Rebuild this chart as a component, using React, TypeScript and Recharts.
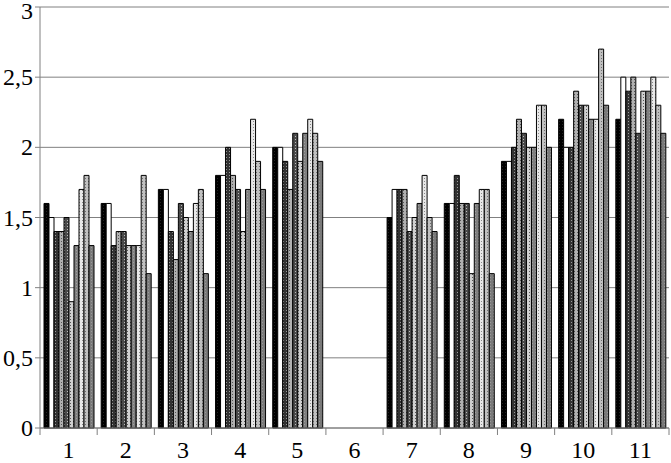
import React from 'react';
import { BarChart, Bar, XAxis, YAxis, CartesianGrid } from 'recharts';

const categories = ['1', '2', '3', '4', '5', '6', '7', '8', '9', '10', '11'];

const s1 = [1.6, 1.6, 1.7, 1.8, 2.0, 0, 1.5, 1.6, 1.9, 2.2, 2.2];
const s2 = [1.5, 1.6, 1.7, 1.8, 2.0, 0, 1.7, 1.6, 1.9, 2.0, 2.5];
const s3 = [1.4, 1.3, 1.4, 2.0, 1.9, 0, 1.7, 1.8, 2.0, 2.0, 2.4];
const s4 = [1.4, 1.4, 1.2, 1.8, 1.7, 0, 1.7, 1.6, 2.2, 2.4, 2.5];
const s5 = [1.5, 1.4, 1.6, 1.7, 2.1, 0, 1.4, 1.6, 2.1, 2.3, 2.1];
const s6 = [0.9, 1.3, 1.5, 1.4, 1.9, 0, 1.5, 1.1, 2.0, 2.3, 2.4];
const s7 = [1.3, 1.3, 1.4, 1.7, 2.1, 0, 1.6, 1.6, 2.0, 2.2, 2.4];
const s8 = [1.7, 1.3, 1.6, 2.2, 2.2, 0, 1.8, 1.7, 2.3, 2.2, 2.5];
const s9 = [1.8, 1.8, 1.7, 1.9, 2.1, 0, 1.5, 1.7, 2.3, 2.7, 2.3];
const s10 = [1.3, 1.1, 1.1, 1.7, 1.9, 0, 1.4, 1.1, 2.0, 2.3, 2.1];

const series = [s1, s2, s3, s4, s5, s6, s7, s8, s9, s10];
const yTicks = [0, 0.5, 1, 1.5, 2, 2.5, 3];

const data = categories.map((c, i) => {
  const row: Record<string, string | number> = { name: c };
  series.forEach((s, k) => {
    row['s' + (k + 1)] = s[i];
  });
  return row;
});

// base colour + dot colour for each series pattern
const patterns = [
  ['#000000', '#222222'],
  ['#ffffff', '#ffffff'],
  ['#333333', '#9a9a9a'],
  ['#b0b0b0', '#555555'],
  ['#4a4a4a', '#bbbbbb'],
  ['#d0d0d0', '#555555'],
  ['#808080', '#a0a0a0'],
  ['#e8e8e8', '#888888'],
  ['#c0c0c0', '#707070'],
  ['#7a7a7a', '#999999'],
];

const font = "'Times New Roman', 'Liberation Serif', Tinos, 'DejaVu Serif', serif";
const W = 671;
const H = 463;
const LEFT = 40;
const RIGHT = 2;
const band = (W - LEFT - RIGHT) / categories.length;

const XTick = (props: any) => {
  const { x, y, payload, index } = props;
  const left = x - band / 2;
  return (
    <g>
      <line x1={left} y1={y - 8} x2={left} y2={y - 1} stroke="#808080" />
      {index === categories.length - 1 && (
        <line x1={left + band} y1={y - 8} x2={left + band} y2={y - 1} stroke="#808080" />
      )}
      <text x={x} y={y + 22} textAnchor="middle" fill="#000" fontSize={24} fontFamily={font}>
        {payload.value}
      </text>
    </g>
  );
};

const YTick = (props: any) => {
  const { x, y, payload } = props;
  return (
    <text x={x} y={Math.max(y + 8, 19)} textAnchor="end" fill="#000" fontSize={24} fontFamily={font}>
      {String(payload.value).replace('.', ',')}
    </text>
  );
};

export default function App() {
  return (
    <div style={{ position: 'absolute', left: 0, top: 0, background: '#fff', fontFamily: font }}>
      <BarChart
        width={W}
        height={H}
        data={data}
        margin={{ top: 7, right: RIGHT, left: 0, bottom: 0 }}
        barCategoryGap="7%"
        barGap={0}
        style={{ fontFamily: font }}
      >
        <defs>
          {patterns.map(([base, dot], k) => (
            <pattern key={k} id={'p' + k} width={3} height={3} patternUnits="userSpaceOnUse">
              <rect width={3} height={3} fill={base} />
              <rect x={1} y={1} width={1} height={1} fill={dot} />
            </pattern>
          ))}
        </defs>
        <CartesianGrid vertical={false} stroke="#808080" />
        <XAxis
          dataKey="name"
          height={35}
          stroke="#808080"
          tickLine={false}
          tick={<XTick />}
          interval={0}
        />
        <YAxis
          width={LEFT}
          domain={[0, 3]}
          ticks={yTicks}
          stroke="#808080"
          tickSize={5}
          tickMargin={2}
          tick={<YTick />}
        />
        {series.map((_, k) => (
          <Bar
            key={k}
            dataKey={'s' + (k + 1)}
            fill={'url(#p' + k + ')'}
            stroke="#000"
            strokeWidth={1}
            isAnimationActive={false}
          />
        ))}
      </BarChart>
    </div>
  );
}
